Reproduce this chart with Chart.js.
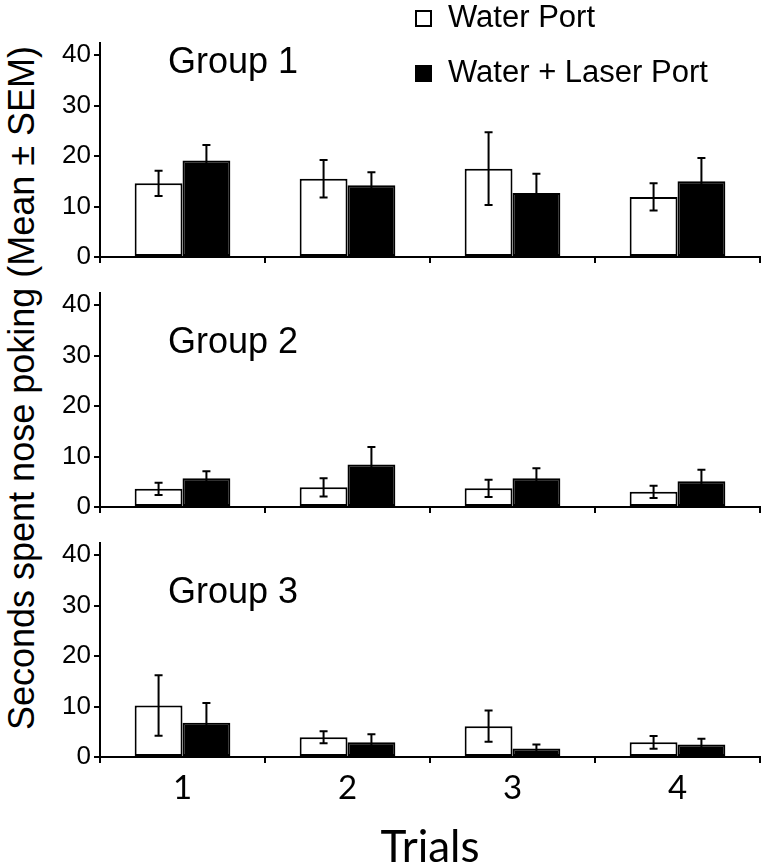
<!DOCTYPE html>
<html>
<head>
<meta charset="utf-8">
<script src="https://cdn.jsdelivr.net/npm/chart.js@4.4.1/dist/chart.umd.min.js"></script>
<style>
  body { margin: 0; background: #fff; }
  #wrap { position: relative; width: 766px; height: 867px; overflow: hidden; }
  canvas { position: absolute; left: 0; }
  #ytitle {
    position: absolute; left: 22px; top: 388px;
    transform: translate(-50%, -50%) rotate(-90deg);
    white-space: nowrap; color: #000;
    font: 36px "Liberation Sans", Arial, sans-serif;
  }
</style>
</head>
<body>
<div id="wrap">
  <div id="ytitle">Seconds spent nose poking (Mean ± SEM)</div>
  <canvas id="g1" width="766" height="277" style="top:0px"></canvas>
  <canvas id="g2" width="766" height="262" style="top:265px"></canvas>
  <canvas id="g3" width="766" height="359" style="top:515px"></canvas>
</div>
<script>
const trials = ["1", "2", "3", "4"]
const seriesNames = ["Water Port", "Water + Laser Port"]
const groupNames = ["Group 1", "Group 2", "Group 3"]
const yTickValues = [0, 10, 20, 30, 40]

// means and SEM
const group1Water = [14.6, 15.5, 17.5, 11.9]
const group1WaterSem = [2.5, 3.7, 7.2, 2.7]
const group1Laser = [19.1, 14.2, 12.7, 15.0]
const group1LaserSem = [3.1, 2.6, 3.8, 4.6]

const group2Water = [3.6, 3.9, 3.7, 3.0]
const group2WaterSem = [1.2, 1.8, 1.7, 1.2]
const group2Laser = [5.7, 8.4, 5.7, 5.1]
const group2LaserSem = [1.4, 3.5, 2.0, 2.3]

const group3Water = [10.2, 3.9, 6.1, 2.9]
const group3WaterSem = [6.0, 1.2, 3.1, 1.25]
const group3Laser = [6.8, 2.9, 1.7, 2.5]
const group3LaserSem = [3.9, 1.6, 0.8, 1.1]

const ARIAL = '"Liberation Sans", Arial, sans-serif'
const LATO = 'Lato, "Open Sans", sans-serif'

const errorBars = {
  id: "errorBars",
  afterDatasetsDraw(chart) {
    const ctx = chart.ctx
    const y = chart.scales.y
    ctx.save()
    ctx.strokeStyle = "#000"
    ctx.lineWidth = 2
    chart.data.datasets.forEach((ds, i) => {
      chart.getDatasetMeta(i).data.forEach((bar, j) => {
        const top = y.getPixelForValue(ds.data[j] + ds.sem[j])
        const bot = y.getPixelForValue(ds.data[j] - ds.sem[j])
        ctx.beginPath()
        ctx.moveTo(bar.x, top); ctx.lineTo(bar.x, bot)
        ctx.moveTo(bar.x - 4, top); ctx.lineTo(bar.x + 4, top)
        ctx.moveTo(bar.x - 4, bot); ctx.lineTo(bar.x + 4, bot)
        ctx.stroke()
      })
    })
    ctx.restore()
  }
}

const panelLabel = {
  id: "panelLabel",
  afterDraw(chart, args, opts) {
    const ctx = chart.ctx
    ctx.save()
    ctx.font = "36px " + ARIAL
    ctx.fillStyle = "#000"
    ctx.textBaseline = "alphabetic"
    ctx.fillText(opts.text, chart.chartArea.left + 68, chart.scales.y.getPixelForValue(opts.y))
    ctx.restore()
  }
}

// legend sits inside the top panel, so it is drawn by hand
const boxLegend = {
  id: "boxLegend",
  afterDraw(chart, args, opts) {
    if (!opts.show) return
    const ctx = chart.ctx
    ctx.save()
    ctx.font = "31px " + ARIAL
    ctx.textBaseline = "middle"
    chart.data.datasets.forEach((ds, i) => {
      const cy = 18 + i * 55
      ctx.fillStyle = ds.backgroundColor
      ctx.strokeStyle = "#000"
      ctx.lineWidth = 2
      ctx.fillRect(416, cy - 7, 15, 15)
      ctx.strokeRect(416, cy - 7, 15, 15)
      ctx.fillStyle = "#000"
      ctx.fillText(ds.label, 448, cy)
    })
    ctx.restore()
  }
}

function makePanel(id, water, waterSem, laser, laserSem, idx) {
  const bottom = idx === 2
  return new Chart(document.getElementById(id), {
    type: "bar",
    data: {
      labels: trials,
      datasets: [{
        label: seriesNames[0],
        data: water,
        sem: waterSem,
        backgroundColor: "#ffffff",
        borderColor: "#000",
        borderWidth: 2,
        borderSkipped: false
      }, {
        label: seriesNames[1],
        data: laser,
        sem: laserSem,
        backgroundColor: "#000000",
        borderColor: "#000",
        borderWidth: 2,
        borderSkipped: false
      }]
    },
    plugins: [errorBars, panelLabel, boxLegend],
    options: {
      responsive: false,
      animation: false,
      layout: { padding: { top: idx === 0 ? 43 : 28, right: 6, left: 0, bottom: 0 } },
      datasets: { bar: { categoryPercentage: 0.58, barPercentage: 1.0 } },
      plugins: {
        legend: { display: false },
        tooltip: { enabled: false },
        panelLabel: { text: groupNames[idx], y: idx === 0 ? 36.4 : 30.6 },
        boxLegend: { show: idx === 0 }
      },
      scales: {
        x: {
          afterFit: s => { s.height = bottom ? 117 : 20 },
          grid: { display: true, drawOnChartArea: false, color: "#000", lineWidth: 2, tickLength: 6 },
          border: { color: "#000", width: 2 },
          ticks: { display: bottom, color: "#000", padding: 6, font: { family: LATO, size: 33 } },
          title: {
            display: bottom, text: "Trials", color: "#000",
            font: { family: LATO, size: 44 }, padding: { top: 0, bottom: 0 }
          }
        },
        y: {
          min: 0,
          max: 42.4,
          afterFit: s => { s.width = 100 },
          afterBuildTicks: s => { s.ticks = yTickValues.map(v => ({ value: v })) },
          grid: { display: true, drawOnChartArea: false, color: "#000", lineWidth: 2, tickLength: 6 },
          border: { color: "#000", width: 2 },
          ticks: { color: "#000", padding: 3, font: { family: ARIAL, size: 26 } }
        }
      }
    }
  })
}

makePanel("g1", group1Water, group1WaterSem, group1Laser, group1LaserSem, 0)
makePanel("g2", group2Water, group2WaterSem, group2Laser, group2LaserSem, 1)
makePanel("g3", group3Water, group3WaterSem, group3Laser, group3LaserSem, 2)
</script>
</body>
</html>
